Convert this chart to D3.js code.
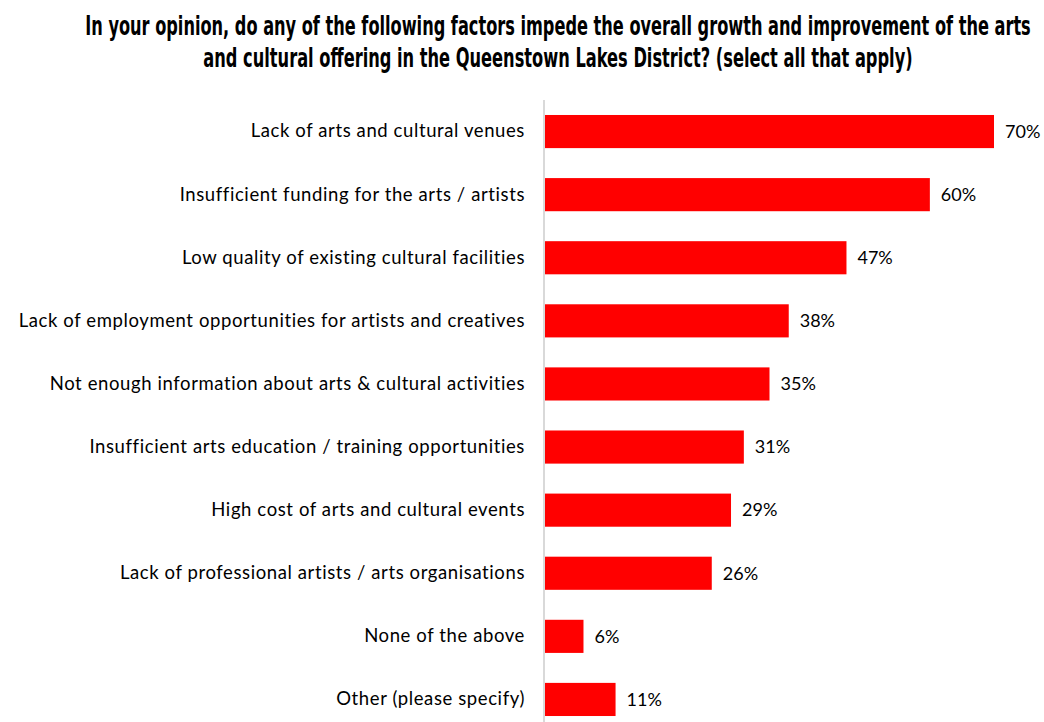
<!DOCTYPE html>
<html>
<head>
<meta charset="utf-8">
<script src="https://cdn.jsdelivr.net/npm/d3@7/dist/d3.min.js"></script>
<style>
  html, body { margin: 0; padding: 0; background: #fff; }
  svg { display: block; }
</style>
</head>
<body>
<svg id="chart" width="1044" height="722"></svg>
<script>
// Survey question and response shares
const titleLines = [
  "In your opinion, do any of the following factors impede the overall growth and improvement of the arts",
  "and cultural offering in the Queenstown Lakes District? (select all that apply)"
];
const categories = [
  "Lack of arts and cultural venues",
  "Insufficient funding for the arts / artists",
  "Low quality of existing cultural facilities",
  "Lack of employment opportunities for artists and creatives",
  "Not enough information about arts & cultural activities",
  "Insufficient arts education / training opportunities",
  "High cost of arts and cultural events",
  "Lack of professional artists / arts organisations",
  "None of the above",
  "Other (please specify)"
];
const values = [0.70, 0.60, 0.47, 0.38, 0.35, 0.31, 0.29, 0.26, 0.06, 0.11];

const svg = d3.select("#chart");

const x = d3.scaleLinear().domain([0, 0.70]).range([545, 994]);
const y = d3.scaleBand()
  .domain(categories)
  .range([100, 731])
  .paddingInner(0.475)
  .paddingOuter(0.2375);

// Title: tall condensed heading, squeezed horizontally to its line width
const titleSpec = [
  { text: titleLines[0], baseline: 35, width: 946 },
  { text: titleLines[1], baseline: 67, width: 710 }
];
titleSpec.forEach(t => {
  const g = svg.append("g");
  const node = g.append("text")
    .attr("x", 0).attr("y", 0)
    .attr("text-anchor", "middle")
    .attr("font-family", "'DejaVu Sans', sans-serif")
    .attr("font-weight", "bold")
    .attr("font-size", 26)
    .attr("fill", "#000")
    .text(t.text)
    .node();
  const natural = node.getComputedTextLength();
  g.attr("transform", `translate(558,${t.baseline}) scale(${t.width / natural},1)`);
});

// Bars
svg.append("g")
  .selectAll("rect")
  .data(values)
  .join("rect")
  .attr("x", x(0))
  .attr("y", (d, i) => y(categories[i]))
  .attr("width", d => x(d) - x(0))
  .attr("height", y.bandwidth())
  .attr("fill", "#ff0000");

// Category labels
const labelFont = "Lato, 'Open Sans', sans-serif";
const yAxis = d3.axisLeft(y).tickSize(0).tickPadding(20);
const gAxis = svg.append("g")
  .attr("transform", `translate(${x(0)},0)`)
  .call(yAxis);
gAxis.select(".domain").remove();
gAxis.selectAll("text")
  .attr("font-family", labelFont)
  .attr("font-size", 18.5)
  .attr("letter-spacing", 0.6)
  .attr("fill", "#000");

// Light vertical baseline
svg.append("line")
  .attr("x1", 544).attr("x2", 544)
  .attr("y1", 100).attr("y2", 722)
  .attr("stroke", "#d9d9d9")
  .attr("stroke-width", 2);

// Value labels
svg.append("g")
  .selectAll("text")
  .data(values)
  .join("text")
  .attr("x", d => x(d) + 11)
  .attr("y", (d, i) => y(categories[i]) + y.bandwidth() / 2)
  .attr("dy", "0.35em")
  .attr("font-family", labelFont)
  .attr("font-size", 18)
  .attr("fill", "#000")
  .text(d => d3.format(".0%")(d));
</script>
</body>
</html>
